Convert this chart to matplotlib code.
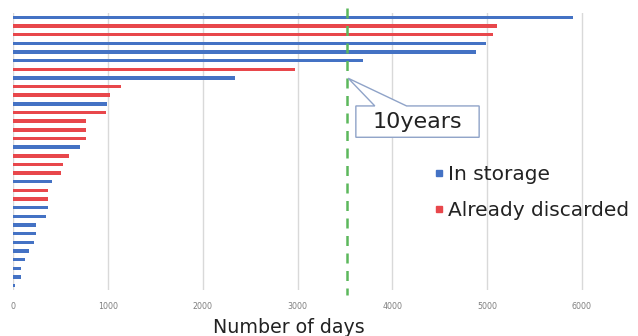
import matplotlib
matplotlib.use("Agg")
import matplotlib.pyplot as plt
from matplotlib.lines import Line2D
from matplotlib.patches import Polygon

# days each record has been kept, top row first
days = [5910, 5100, 5060, 4985, 4880, 3690, 2970, 2340, 1135, 1025,
        985, 980, 765, 765, 765, 705, 585, 530, 505, 410,
        370, 370, 365, 345, 245, 240, 215, 170, 125, 80,
        80, 20]
status = ["s", "d", "d", "s", "s", "s", "d", "s", "d", "d",
          "s", "d", "d", "d", "d", "s", "d", "d", "d", "s",
          "d", "d", "s", "s", "s", "s", "s", "s", "s", "s",
          "s", "s"]
series_names = {"s": "In storage", "d": "Already discarded"}
ten_years = 3520
x_ticks = [0, 1000, 2000, 3000, 4000, 5000, 6000]

BLUE = "#4472c4"
RED = "#e8474b"
GREEN = "#5cb85c"
colors = {"s": BLUE, "d": RED}

fig = plt.figure(figsize=(6.38, 3.36), dpi=100)
ax = fig.add_axes([0.0208, 0.137, 0.9655, 0.8244])

rows = list(range(len(days)))
ax.barh(rows, days, height=0.4, color=[colors[s] for s in status], zorder=3)

ax.set_xlim(0, 6500)
ax.set_ylim(len(days) - 0.5, -0.5)
ax.set_xticks(x_ticks)
ax.set_yticks([])
ax.grid(axis="x", color="#d9d9d9", lw=1, zorder=0)
for sp in ax.spines.values():
    sp.set_visible(False)
ax.tick_params(axis="x", length=0, pad=9, labelsize=5.7, labelcolor="#7f7f7f")

# 10 years line
ax.plot([ten_years, ten_years], [-1.07, 32.1], color=GREEN, lw=1.8,
        dashes=(4, 3), clip_on=False, zorder=4)

# callout box with pointer
bx0, bx1, by0, by1 = 3615, 4916, 10.24, 13.86
callout = Polygon([(bx0, by0), (3815, by0), (3534, 7.04), (4150, by0),
                   (bx1, by0), (bx1, by1), (bx0, by1)],
                  closed=True, fc="white", ec="#8fa3c8", lw=1, zorder=5)
ax.add_patch(callout)
ax.text((bx0 + bx1) / 2, (by0 + by1) / 2, "10years", fontsize=16,
        ha="center", va="center", color="#222222", zorder=6)

handles = [Line2D([], [], marker="s", ls="", color=colors[k], markersize=5,
                  label=series_names[k]) for k in ["s", "d"]]
fig.legend(handles=handles, loc="upper left", bbox_to_anchor=(0.664, 0.54),
           frameon=False, fontsize=14.5, handlelength=0.5, handletextpad=0.2,
           labelspacing=0.85, borderpad=0, labelcolor="#222222")

fig.text(289 / 638, 3 / 336, "Number of days", fontsize=13.7, ha="center",
         va="baseline", color="#222222")

fig.savefig("out.png", dpi=100)
